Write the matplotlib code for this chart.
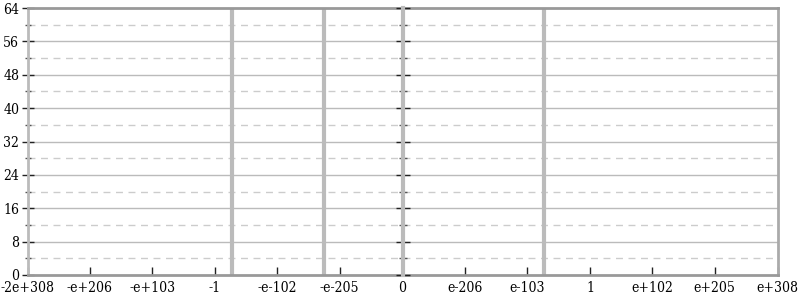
import matplotlib
matplotlib.use('Agg')
import matplotlib.pyplot as plt
import numpy as np

plt.rcParams['font.family'] = 'DejaVu Serif'
plt.rcParams['font.stretch'] = 'condensed'

# bars: float values and their counts
bar_values = [-4e-28, -6e-180, 8e-76]
bar_counts = [64, 64, 64]

FMAX = np.finfo(float).max
x_ticks = [-FMAX, -1e206, -1e103, -1.0, -1e-102, -1e-205, 0.0,
           1e-206, 1e-103, 1.0, 1e102, 1e205, FMAX]
x_labels = ['-2e+308', '-e+206', '-e+103', '-1', '-e-102', '-e-205', '0',
            'e-206', 'e-103', '1', 'e+102', 'e+205', 'e+308']
y_ticks = [0, 8, 16, 24, 32, 40, 48, 56, 64]

# one unit on the axis = a third of the double exponent range
U = 1024 * np.log10(2) / 3


def fwd(x):
    x = np.asarray(x, dtype=float)
    with np.errstate(divide='ignore', invalid='ignore', over='ignore'):
        a = np.abs(x)
        p = np.where(a > 0, 3 + np.log10(np.where(a > 0, a, 1)) / U, 0)
        p = np.clip(p, 0, None)
    return np.sign(x) * p


def inv(y):
    y = np.asarray(y, dtype=float)
    with np.errstate(over='ignore'):
        return np.sign(y) * 10 ** ((np.abs(y) - 3) * U)


fig = plt.figure(figsize=(8, 3), dpi=100)
ax = fig.add_axes([27.5 / 800, 25 / 300, 750 / 800, 267 / 300])
ax.set_xscale('function', functions=(fwd, inv))
ax.set_xlim(-FMAX, FMAX)
ax.set_ylim(0, 64)

# grid
for y in y_ticks[1:-1]:
    ax.axhline(y, color='#bbbbbb', lw=1, zorder=1)
for y in np.arange(4, 64, 8):
    ax.axhline(y, color='#cccccc', lw=1, ls=(0, (5, 4)), zorder=1)

ax.vlines(bar_values, 0, bar_counts, color='#bbbbbb', lw=3, zorder=2)

ax.set_xticks(x_ticks)
ax.set_xticklabels(x_labels)
ax.set_yticks(y_ticks)
ax.set_yticks(np.arange(4, 64, 8), minor=True)
ax.xaxis.set_minor_locator(matplotlib.ticker.NullLocator())

ax.tick_params(axis='x', direction='in', length=6, width=1, color='#222222',
               labelsize=10, pad=4)
ax.tick_params(axis='y', which='major', direction='inout', length=8, width=1,
               color='#222222', labelsize=10, pad=2, right=True)
ax.tick_params(axis='y', which='minor', direction='inout', length=5, width=1,
               color='#555555', right=True)

for side in ['top', 'bottom']:
    ax.spines[side].set_color('#999999')
    ax.spines[side].set_linewidth(2)
ax.spines['left'].set_color('#bbbbbb')
ax.spines['left'].set_linewidth(2)
ax.spines['right'].set_color('#aaaaaa')
ax.spines['right'].set_linewidth(2)

# center axis at x = 0
ax2 = ax.twinx()
ax2.set_ylim(0, 64)
ax2.set_yticks(y_ticks)
ax2.set_yticks(np.arange(4, 64, 8), minor=True)
for side in ['top', 'bottom', 'right']:
    ax2.spines[side].set_visible(False)
ax2.spines['left'].set_position(('data', 0))
ax2.spines['left'].set_visible(True)
ax2.spines['left'].set_color('#bbbbbb')
ax2.spines['left'].set_linewidth(3)
ax2.yaxis.set_ticks_position('left')
ax2.tick_params(axis='y', which='major', direction='inout', length=10, width=1,
                color='#222222', labelleft=False, labelright=False)
ax2.tick_params(axis='y', which='minor', direction='inout', length=6, width=1,
                color='#555555')

fig.savefig('out.png', dpi=100)
